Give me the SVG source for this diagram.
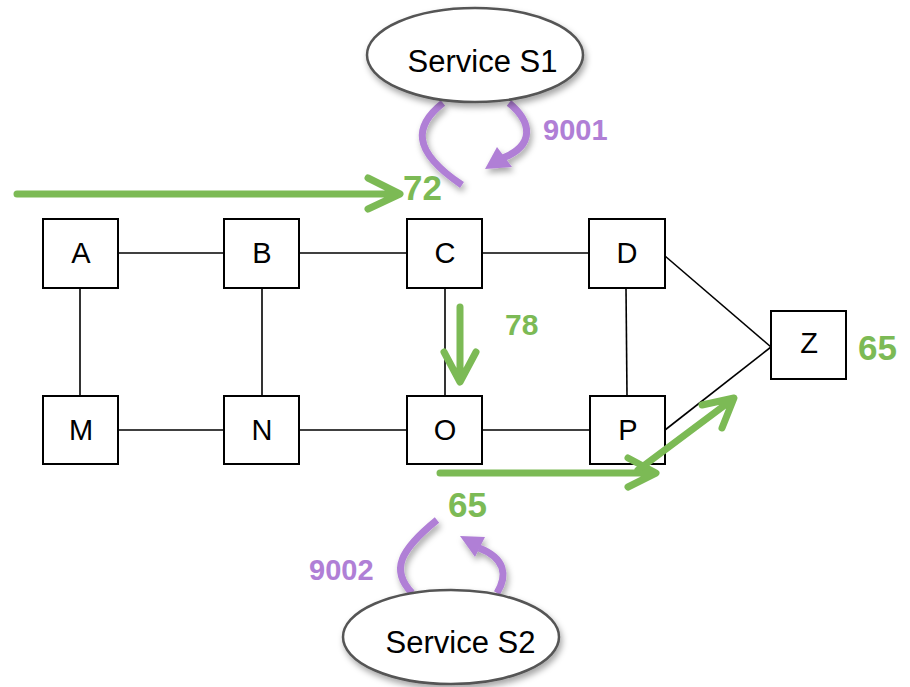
<svg xmlns="http://www.w3.org/2000/svg" width="910" height="687" viewBox="0 0 910 687">
<style>
.box{fill:#fff;stroke:#000;stroke-width:2}
.lbl{font-family:"Liberation Sans",Arial,sans-serif;font-size:29px;fill:#000;text-anchor:middle}
.svc{font-family:"Liberation Sans",Arial,sans-serif;font-size:31px;fill:#000;text-anchor:middle}
.edge{stroke:#000;stroke-width:1.6;fill:none}
.g{stroke:#7cba55;stroke-width:7;fill:none;stroke-linecap:round;stroke-linejoin:round}
.p{stroke:#b07fd6;stroke-width:7;fill:none}
.ph{fill:#b07fd6}
.gt{font-family:"Liberation Sans",Arial,sans-serif;font-weight:bold;fill:#7cba55}
.pt{font-family:"Liberation Sans",Arial,sans-serif;font-weight:bold;fill:#b07fd6;font-size:29px}
.ell{fill:#fff;stroke:#555;stroke-width:2.5}
</style>
<defs>
<filter id="sh" x="-20%" y="-20%" width="140%" height="150%">
<feDropShadow dx="2" dy="4" stdDeviation="3" flood-color="#000" flood-opacity="0.35"/>
</filter>
</defs>
<g id="connectors">
<line class="edge" x1="118" y1="253" x2="224" y2="253"/>
<line class="edge" x1="299" y1="253" x2="407" y2="253"/>
<line class="edge" x1="482" y1="253" x2="589" y2="253"/>
<line class="edge" x1="118" y1="430" x2="224" y2="430"/>
<line class="edge" x1="299" y1="430" x2="407" y2="430"/>
<line class="edge" x1="482" y1="430" x2="590" y2="430"/>
<line class="edge" x1="80" y1="288" x2="80" y2="396"/>
<line class="edge" x1="262" y1="288" x2="262" y2="396"/>
<line class="edge" x1="445" y1="288" x2="445" y2="396"/>
<line class="edge" x1="626" y1="288" x2="627" y2="396"/>
<line class="edge" x1="665" y1="256" x2="771" y2="347"/>
<line class="edge" x1="665" y1="430" x2="771" y2="347"/>
</g>
<g id="A"><rect class="box" x="43" y="219" width="75" height="69"/><text class="lbl" x="81" y="263">A</text></g>
<g id="B"><rect class="box" x="224" y="219" width="75" height="69"/><text class="lbl" x="262" y="263">B</text></g>
<g id="C"><rect class="box" x="407" y="219" width="75" height="69"/><text class="lbl" x="445" y="263">C</text></g>
<g id="D"><rect class="box" x="589" y="219" width="76" height="69"/><text class="lbl" x="627" y="263">D</text></g>
<g id="M"><rect class="box" x="43" y="396" width="75" height="68"/><text class="lbl" x="81" y="440">M</text></g>
<g id="N"><rect class="box" x="224" y="396" width="75" height="68"/><text class="lbl" x="262" y="440">N</text></g>
<g id="O"><rect class="box" x="407" y="396" width="75" height="68"/><text class="lbl" x="445" y="440">O</text></g>
<g id="P"><rect class="box" x="590" y="396" width="75" height="68"/><text class="lbl" x="628" y="440">P</text></g>
<g id="Z"><rect class="box" x="771" y="311" width="75" height="68"/><text class="lbl" x="809" y="353">Z</text></g>
<g id="flows">
<path class="g" d="M17,194 L398,194 M368,178 L400,194 L368,209"/>
<text class="gt" x="403" y="200" font-size="35">72</text>
<path class="g" d="M460,307 L460,381 M444,352 L460,382 L476,352"/>
<text class="gt" x="505" y="335" font-size="30">78</text>
<path class="g" d="M440,473 L654,473 M628,458 L656,473 L628,487"/>
<path class="g" d="M638,470 L733,399 M702,405 L734,398 L722,428"/>
<text class="gt" x="858" y="360" font-size="35">65</text>
<text class="gt" x="448" y="517" font-size="35">65</text>
</g>
<g id="S1">
<g filter="url(#sh)">
<path class="p" d="M443,103 C415,125 410,150 462,185"/>
<path class="p" d="M509,103 C532,122 535,145 503,158"/>
<polygon class="ph" points="485,169 497,147 512,167"/>
</g>
<ellipse class="ell" cx="475" cy="55" rx="108" ry="47" filter="url(#sh)"/>
<text class="svc" x="482.500" y="72">Service S1</text>
<text class="pt" x="543" y="140">9001</text>
</g>
<g id="S2">
<g filter="url(#sh)">
<path class="p" d="M412,593 C390,570 400,550 437,520"/>
<path class="p" d="M497,593 C508,575 505,558 479,548"/>
<polygon class="ph" points="460,536 485,537 475,557"/>
</g>
<ellipse class="ell" cx="451" cy="637" rx="108" ry="47" filter="url(#sh)"/>
<text class="svc" x="460.500" y="653">Service S2</text>
<text class="pt" x="309" y="580">9002</text>
</g>
</svg>
